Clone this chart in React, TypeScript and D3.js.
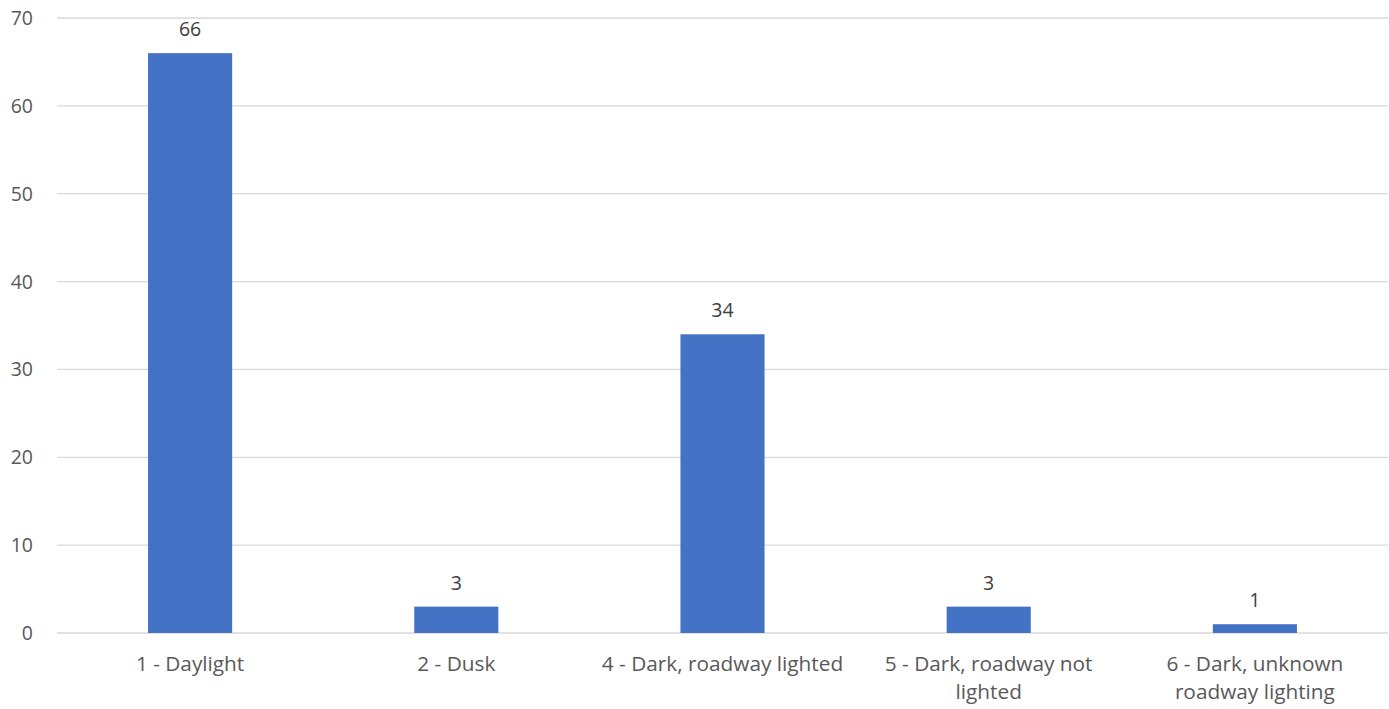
import React from "react";
import * as d3 from "d3";

const categories: string[][] = [
  ["1 - Daylight"],
  ["2 - Dusk"],
  ["4 - Dark, roadway lighted"],
  ["5 - Dark, roadway not", "lighted"],
  ["6 - Dark, unknown", "roadway lighting"],
];
const values: number[] = [66, 3, 34, 3, 1];
const yTicks: number[] = [0, 10, 20, 30, 40, 50, 60, 70];

const W = 1389;
const H = 709;
const left = 57;
const right = 1388;
const top = 18;
const bottom = 633;
const FONT = "'Open Sans', 'Noto Sans', sans-serif";
const FS = 19.5;
const FS_CAT = 20.8;

export default function App() {
  const keys = categories.map((c) => c.join(" "));
  const x = d3.scaleBand<string>().domain(keys).range([left, right]).paddingInner(0.684).paddingOuter(0.342);
  const y = d3.scaleLinear().domain([0, 70]).range([bottom, top]);
  return (
    <svg width={W} height={H} style={{ position: "absolute", left: 0, top: 0, background: "#fff" }}>
      {yTicks.map((t) => (
        <g key={t}>
          <line x1={left} x2={right} y1={y(t)} y2={y(t)} stroke="#d9d9d9" strokeWidth={1.3} />
          <text x={33} y={y(t)} dy="0.36em" textAnchor="end" fontFamily={FONT} fontSize={FS} fill="#595959">
            {t}
          </text>
        </g>
      ))}
      {values.map((v, i) => {
        const k = keys[i];
        const bx = x(k)!;
        const cx = bx + x.bandwidth() / 2;
        return (
          <g key={k}>
            <rect x={bx} y={y(v)} width={x.bandwidth()} height={y(0) - y(v)} fill="#4472c4" />
            <text x={cx} y={y(v) - 17} textAnchor="middle" fontFamily={FONT} fontSize={FS} fill="#404040">
              {v}
            </text>
            {categories[i].map((line, j) => (
              <text key={j} x={cx} y={671 + j * 28} textAnchor="middle" fontFamily={FONT} fontSize={FS_CAT} fill="#595959">
                {line}
              </text>
            ))}
          </g>
        );
      })}
    </svg>
  );
}
